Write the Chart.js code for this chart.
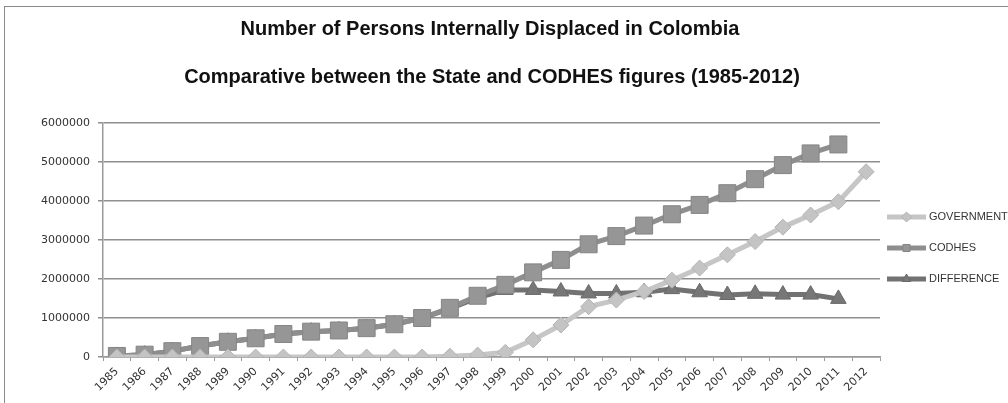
<!DOCTYPE html>
<html>
<head>
<meta charset="utf-8">
<script src="https://cdn.jsdelivr.net/npm/chart.js@4.4.1/dist/chart.umd.min.js"></script>
<style>
  html, body { margin: 0; padding: 0; background: #fff; overflow: hidden; }
  #wrap { position: relative; width: 1008px; height: 403px; }
  #frame { position: absolute; left: 4px; top: 6px; width: 1100px; height: 500px;
           border: 1.5px solid #8a8a8a; box-sizing: border-box; }
  #wrap canvas { position: absolute; left: 0; top: 0; }
</style>
</head>
<body>
<div id="wrap">
  <div id="frame"></div>
  <canvas id="chart"></canvas>
</div>
<script>
// values (persons, cumulative)
const years = ['1985','1986','1987','1988','1989','1990','1991','1992','1993','1994',
               '1995','1996','1997','1998','1999','2000','2001','2002','2003','2004',
               '2005','2006','2007','2008','2009','2010','2011','2012'];

const government = [0, 0, 0, 0, 0, 0, 0, 0, 0, 0,
                    0, 0, 20000, 50000, 120000, 440000, 820000, 1290000, 1460000, 1680000,
                    1970000, 2280000, 2620000, 2960000, 3330000, 3640000, 3980000, 4750000];

const codhes = [27000, 60000, 150000, 280000, 390000, 480000, 590000, 650000, 680000, 740000,
                840000, 1000000, 1260000, 1570000, 1850000, 2170000, 2490000, 2890000, 3100000, 3370000,
                3660000, 3900000, 4200000, 4560000, 4920000, 5220000, 5450000, null];

const difference = [27000, 60000, 150000, 280000, 390000, 480000, 590000, 650000, 680000, 740000,
                    840000, 1000000, 1240000, 1520000, 1720000, 1720000, 1680000, 1630000, 1630000, 1660000,
                    1740000, 1660000, 1590000, 1620000, 1600000, 1600000, 1490000, null];

const yTicks = [0, 1000000, 2000000, 3000000, 4000000, 5000000, 6000000];

const titleLines = [
  'Number of Persons Internally Displaced in Colombia',
  'Comparative between the State and CODHES figures (1985-2012)',
];

// titles are centred on the whole frame, not on the plot, so draw them here
const frameTitles = {
  id: 'frameTitles',
  afterDraw(chart) {
    const ctx = chart.ctx;
    ctx.save();
    ctx.fillStyle = '#111';
    ctx.font = 'bold 20px "Liberation Sans", Arial, sans-serif';
    ctx.textAlign = 'center';
    ctx.textBaseline = 'middle';
    ctx.fillText(titleLines[0], 490, 29);
    ctx.fillText(titleLines[1], 492, 77);
    ctx.restore();
  }
};

// legend on the right, Excel style: line with marker in the middle
const sideLegend = {
  id: 'sideLegend',
  afterDraw(chart) {
    const ctx = chart.ctx;
    const x0 = 887, x1 = 926;
    ctx.save();
    chart.data.datasets.forEach((ds, i) => {
      const y = 217 + i * 31;
      ctx.strokeStyle = ds.borderColor;
      ctx.lineWidth = 5;
      ctx.beginPath();
      ctx.moveTo(x0, y);
      ctx.lineTo(x1, y);
      ctx.stroke();
      if (Chart.helpers && Chart.helpers.drawPoint) {
        ctx.fillStyle = ds.pointBackgroundColor;
        ctx.strokeStyle = ds.pointBorderColor;
        ctx.lineWidth = 1;
        Chart.helpers.drawPoint(ctx, { pointStyle: ds.pointStyle, radius: 5, rotation: 0, borderWidth: 1 },
          (x0 + x1) / 2, y);
      }
      ctx.fillStyle = '#333';
      ctx.font = '11px "Liberation Sans", Arial, sans-serif';
      ctx.textBaseline = 'middle';
      ctx.textAlign = 'left';
      ctx.fillText(ds.label, x1 + 3, y);
    });
    ctx.restore();
  }
};

new Chart(document.getElementById('chart'), {
  type: 'line',
  data: {
    labels: years,
    datasets: [
      {
        label: 'GOVERNMENT',
        data: government,
        borderColor: '#c6c6c6',
        borderWidth: 5,
        pointStyle: 'rectRot',
        pointRadius: 8,
        pointBackgroundColor: '#c4c4c4',
        pointBorderColor: '#b4b4b4',
        pointBorderWidth: 1,
      },
      {
        label: 'CODHES',
        data: codhes,
        borderColor: '#8e8e8e',
        borderWidth: 5,
        pointStyle: 'rect',
        pointRadius: 12,
        pointBackgroundColor: '#969696',
        pointBorderColor: '#858585',
        pointBorderWidth: 1,
      },
      {
        label: 'DIFFERENCE',
        data: difference,
        borderColor: '#727272',
        borderWidth: 5,
        pointStyle: 'triangle',
        pointRadius: 9,
        pointBackgroundColor: '#777777',
        pointBorderColor: '#6a6a6a',
        pointBorderWidth: 1,
      },
    ]
  },
  options: {
    responsive: true,
    maintainAspectRatio: false,
    animation: false,
    layout: { padding: { left: 0, right: 128, top: 123, bottom: 0 } },
    plugins: {
      legend: { display: false },
      tooltip: { enabled: false },
    },
    scales: {
      x: {
        offset: true,
        grid: { offset: true, drawOnChartArea: false, drawTicks: true, tickLength: 4, color: '#9a9a9a' },
        border: { color: '#9a9a9a', width: 1.5 },
        ticks: {
          autoSkip: false, maxRotation: 45, minRotation: 45, padding: 4,
          color: '#333',
          font: { family: '"DejaVu Sans", Verdana, sans-serif', size: 11 },
        },
        afterFit(scale) { scale.height = 46; },
      },
      y: {
        min: 0,
        max: 6000000,
        afterBuildTicks(scale) { scale.ticks = yTicks.map(v => ({ value: v })); },
        grid: { color: '#8f8f8f', lineWidth: 1.5, tickLength: 5 },
        border: { color: '#9a9a9a', width: 1.5 },
        ticks: {
          padding: 8,
          color: '#333',
          font: { family: '"DejaVu Sans", Verdana, sans-serif', size: 11 },
          callback: v => String(v),
        },
        afterFit(scale) { scale.width = 103; },
      },
    },
  },
  plugins: [frameTitles, sideLegend],
});
</script>
</body>
</html>
